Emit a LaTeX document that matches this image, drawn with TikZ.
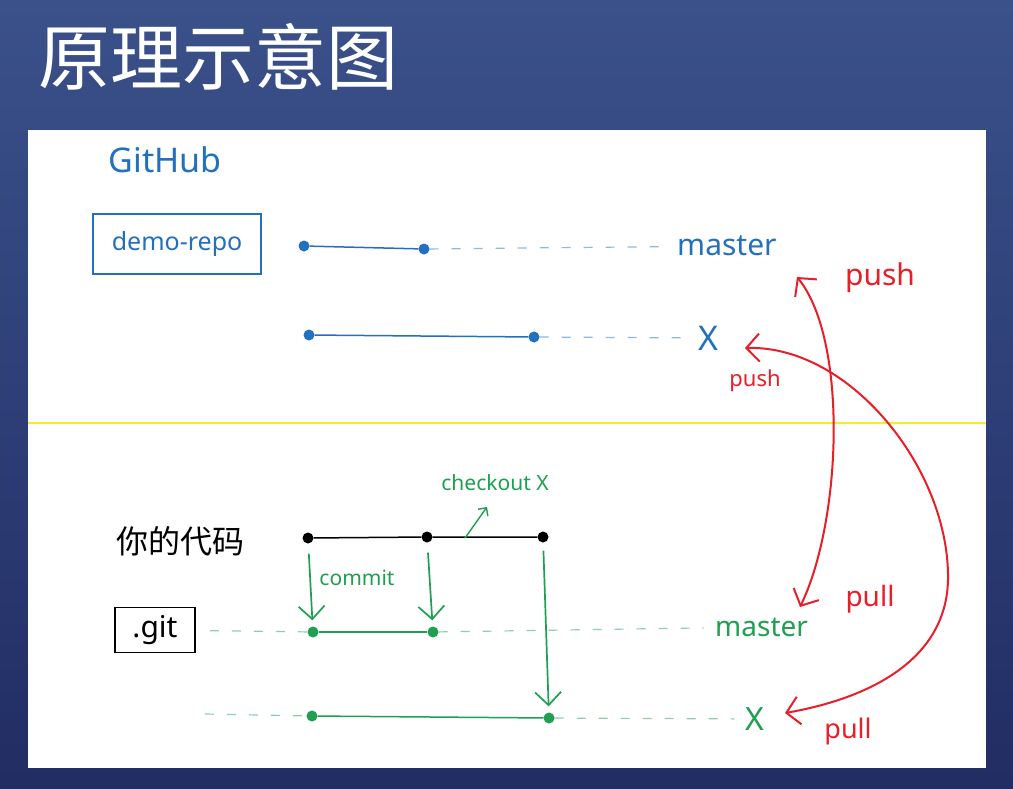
\documentclass[tikz,border=0pt]{standalone}
\usepackage{fontspec}
\setmainfont{Noto Sans}
\newfontfamily\cjk{Noto Sans CJK SC}
\usetikzlibrary{arrows.meta}
\definecolor{bgtop}{RGB}{59,81,138}
\definecolor{bgbot}{RGB}{33,45,99}
\definecolor{hubblue}{RGB}{35,112,190}
\definecolor{gitgreen}{RGB}{30,160,80}
\definecolor{pen}{RGB}{232,30,40}
\definecolor{divider}{RGB}{250,235,40}
\newcommand\hwsize[1]{\fontsize{#1}{#1}\selectfont}

\tikzset{
  commitdot/.style={circle,fill,inner sep=0pt,minimum size=11pt},
  solidlink/.style={line width=1.5pt},
  dashlink/.style={line width=1.2pt,dash pattern=on 9pt off 13pt,draw opacity=0.5},
  barb/.style={line width=1.7pt,-{Straight Barb[length=13pt,width=26pt,line width=1.7pt]}},
  twobarb/.style={line width=2pt,{Straight Barb[length=13pt,width=28pt,line width=2pt]}-{Straight Barb[length=13pt,width=28pt,line width=2pt]}},
  label/.style={inner sep=1pt},
  repobox/.style={draw,line width=1.8pt,inner sep=0pt},
}

\begin{document}
\begin{tikzpicture}[x=1pt,y=-1pt]
\useasboundingbox (0,0) rectangle (1013,788);
% slide background and white board
\shade[top color=bgtop,bottom color=bgbot] (0,0) rectangle (1013,788);
\fill[white] (28,130) rectangle (986,768);
\node[anchor=west,inner sep=0pt,text=white,font=\cjk\hwsize{72}] (title) at (38,57) {原理示意图};

% divider between remote and local
\draw[divider,line width=2pt] (28,423) -- (986,423);

% ---------- GitHub side ----------
\node[label,text=hubblue,font=\hwsize{34}] (github) at (165,160) {GitHub};
\node[repobox,draw=hubblue,text=hubblue,minimum width=168pt,minimum height=60pt,font=\hwsize{25}] (repo) at (177,244) {demo-repo};

\node[commitdot,hubblue] (a1) at (304,246) {};
\node[commitdot,hubblue] (a2) at (424,249) {};
\node[label,anchor=west,text=hubblue,font=\hwsize{30}] (am) at (676,246) {master};
\draw[solidlink,hubblue] (a1) -- (a2);
\draw[dashlink,hubblue,shorten >=10pt] (a2) -- (am);

\node[commitdot,hubblue] (b1) at (309,335) {};
\node[commitdot,hubblue] (b2) at (534,337) {};
\node[label,text=hubblue,font=\hwsize{34}] (bx) at (708,338) {X};
\draw[solidlink,hubblue] (b1) -- (b2);
\draw[dashlink,hubblue,shorten >=8pt] (b2) -- (bx);

% ---------- local side ----------
\node[label,font=\cjk\hwsize{32}] (code) at (180,541) {你的代码};
\node[commitdot,black] (c1) at (308,538) {};
\node[commitdot,black] (c2) at (427,537) {};
\node[commitdot,black] (c3) at (543,537) {};
\draw[solidlink] (c1) -- (c2) -- (c3);

\node[label,text=gitgreen,font=\hwsize{21}] (checkout) at (495,483) {checkout X};
\coordinate (coFoot) at (465,538);
\coordinate (coHead) at (487,507);
\draw[gitgreen,line width=1.4pt,-{Straight Barb[length=6pt,width=12pt,line width=1.4pt]}] (coFoot) -- (coHead);

\node[repobox,draw=black,minimum width=80pt,minimum height=45pt,font=\hwsize{30}] (git) at (155,630) {.git};

\node[commitdot,gitgreen] (d1) at (313,632) {};
\node[commitdot,gitgreen] (d2) at (433,632) {};
\node[label,anchor=west,text=gitgreen,font=\hwsize{28}] (dm) at (714,627) {master};
\draw[dashlink,gitgreen,shorten <=14pt] (git) -- (d1);
\draw[solidlink,gitgreen] (d1) -- (d2);
\draw[dashlink,gitgreen,shorten >=10pt] (d2) -- (dm);

\coordinate (eL) at (205,714);
\node[commitdot,gitgreen] (e1) at (312,716) {};
\node[commitdot,gitgreen] (e2) at (549,718) {};
\node[label,text=gitgreen,font=\hwsize{32}] (ex) at (755,719) {X};
\draw[dashlink,gitgreen] (eL) -- (e1);
\draw[solidlink,gitgreen] (e1) -- (e2);
\draw[dashlink,gitgreen,shorten >=10pt] (e2) -- (ex);

% commits and checkout
\draw[barb,gitgreen,shorten <=10pt,shorten >=6pt] (c1) -- (d1);
\node[label,text=gitgreen,font=\hwsize{21}] (commit) at (357,578) {commit};
\draw[barb,gitgreen,shorten <=10pt,shorten >=6pt] (c2) -- (d2);
\draw[barb,gitgreen,shorten <=8pt,shorten >=6pt] (c3) -- (e2);

% ---------- push / pull ----------
\coordinate (aTop) at (797,277);
\coordinate (aBot) at (800,607);
\draw[twobarb,pen] (aBot) .. controls (842,520) and (848,340) .. (aTop);
\coordinate (bTop) at (745,348);
\coordinate (bBot) at (785,713);
\draw[twobarb,pen] (bTop) .. controls (850,345) and (950,470) .. (948,580)
                         .. controls (946,665) and (860,700) .. (bBot);

\node[label,text=pen,font=\hwsize{30}] (pushA) at (880,278) {push};
\node[label,text=pen,font=\hwsize{22}] (pushB) at (755,381) {push};
\node[label,text=pen,font=\hwsize{28}] (pullA) at (870,599) {pull};
\node[label,text=pen,font=\hwsize{27}] (pullB) at (848,731) {pull};
\end{tikzpicture}
\end{document}
